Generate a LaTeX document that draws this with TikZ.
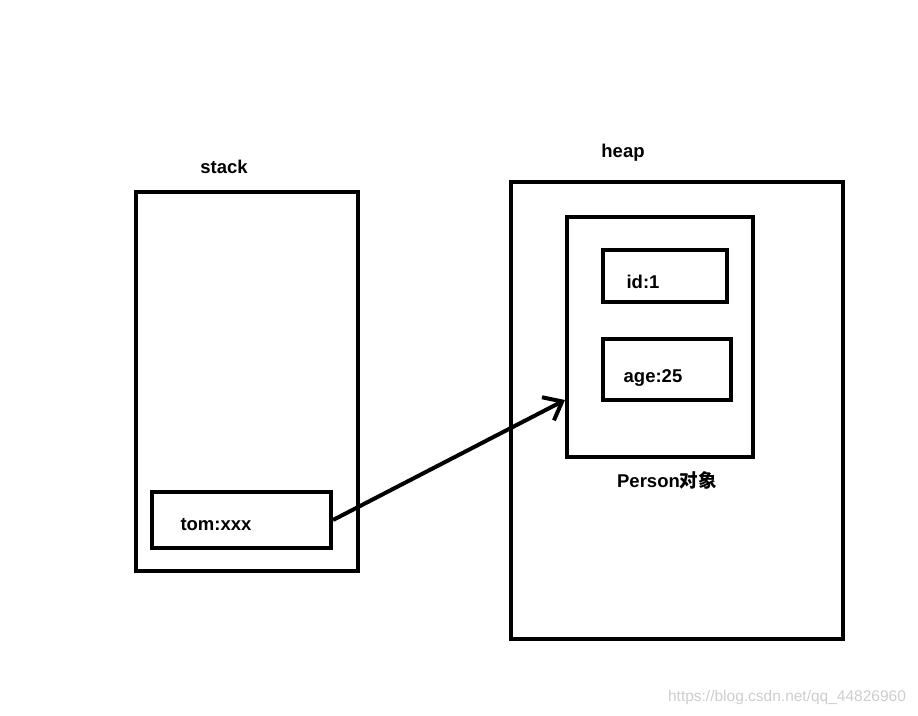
\documentclass[tikz,border=0pt]{standalone}
\usepackage{fontspec}
\setmainfont{Liberation Sans}
\newfontfamily\cjk{Noto Sans CJK SC}
\usetikzlibrary{arrows.meta}
\definecolor{markgray}{RGB}{205,205,205}

\begin{document}
\begin{tikzpicture}[x=1pt, y=-1pt, line width=4pt,
    box/.style={draw, rectangle, inner sep=0pt},
    lbl/.style={font=\fontsize{18.5}{22}\selectfont\bfseries, inner sep=0pt},
    ptr/.style={-{Straight Barb[length=16pt,width=26pt,line width=4pt]}, line width=4pt}]
        \useasboundingbox (0,0) rectangle (918,715);

        % stack side
        \node[box, minimum width=222pt, minimum height=379pt] (stack) at (247,381.5) {};
        \node[box, minimum width=179pt, minimum height=56pt] (tom) at (241.5,520) {};
        \node[lbl] (stacklbl) at (224,167) {stack};
        \node[lbl] (tomtxt) at (216,525) {tom:xxx};

        % heap side
        \node[box, minimum width=332pt, minimum height=457pt] (heap) at (677,410.5) {};
        \node[box, minimum width=186pt, minimum height=240pt] (person) at (660,337) {};
        \node[box, minimum width=124pt, minimum height=52pt] (id) at (665,276) {};
        \node[box, minimum width=128pt, minimum height=61pt] (age) at (667,369.5) {};
        \node[lbl] (heaplbl) at (623,153) {heap};
        \node[lbl] (idtxt) at (643,282) {id:1};
        \node[lbl] (agetxt) at (653,378) {age:25};
        \node[lbl] (personlbl) at (667,480) {Person{\cjk\bfseries 对象}};

        % reference
        \coordinate (tip) at (565,400);
        \draw[ptr] (tom.east) -- (tip);

        \node[text=markgray, font=\fontsize{15.5}{17}\selectfont, inner sep=0pt] (mark) at (787,697) {https://blog.csdn.net/qq\_44826960};
    \end{tikzpicture}
\end{document}
